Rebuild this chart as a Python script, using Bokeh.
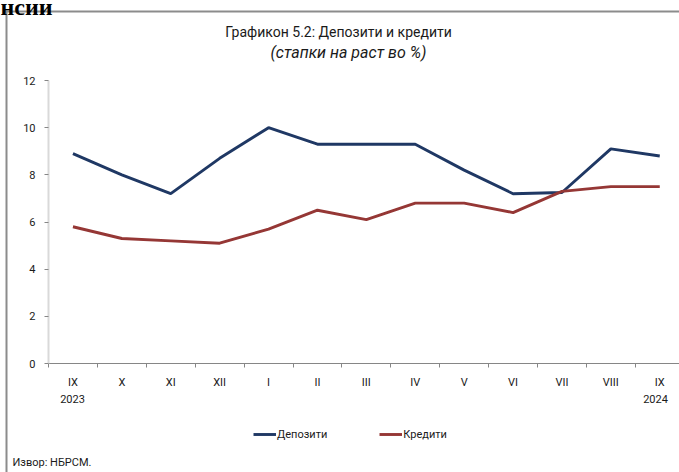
from bokeh.plotting import figure
from bokeh.models import Range1d, FixedTicker, Label, Legend, LegendItem, BoxAnnotation
from bokeh.embed import file_html
from bokeh.resources import INLINE

months = ["IX", "X", "XI", "XII", "I", "II", "III", "IV", "V", "VI", "VII", "VIII", "IX"]
years = ["2023", "2024"]
deposits = [8.9, 8.0, 7.2, 8.7, 10.0, 9.3, 9.3, 9.3, 8.2, 7.2, 7.25, 9.1, 8.8]
loans = [5.8, 5.3, 5.2, 5.1, 5.7, 6.5, 6.1, 6.8, 6.8, 6.4, 7.3, 7.5, 7.5]
y_ticks = [0, 2, 4, 6, 8, 10, 12]
idx = list(range(len(months)))

FONT = "Roboto"
TXT = "#1a1a1a"
W, H = 679, 472

# plot area geometry (canvas px): left 48, top 80, bottom 363, 48.9 px per category
PX_X = 48.9
PX_Y = (363 - 80) / 12.0
x0 = -0.5 - 48 / PX_X
x1 = x0 + W / PX_X
y0 = -(H - 363) / PX_Y
y1 = 12 + 80 / PX_Y

p = figure(width=W, height=H, output_backend="svg", toolbar_location=None,
           x_range=Range1d(x0, x1), y_range=Range1d(y0, y1),
           min_border_left=0, min_border_right=0, min_border_top=0, min_border_bottom=0)
p.xgrid.visible = False
p.ygrid.visible = False
p.outline_line_color = None
p.background_fill_color = "white"
p.border_fill_color = "white"

r1 = p.line(idx, deposits, line_color="#1F3864", line_width=2.9)
r2 = p.line(idx, loans, line_color="#953735", line_width=2.9)

ya = p.yaxis[0]
ya.fixed_location = -0.5
ya.bounds = (0, 12)
ya.ticker = FixedTicker(ticks=y_ticks)
ya.major_tick_out = 4
ya.major_tick_in = 0
ya.minor_tick_out = 0
ya.minor_tick_in = 0
ya.axis_line_color = "#D9D9D9"
ya.axis_line_width = 2
ya.major_tick_line_color = "#868686"
ya.major_label_standoff = 9
ya.major_label_text_font = FONT
ya.major_label_text_font_size = "11px"
ya.major_label_text_color = TXT

xa = p.xaxis[0]
xa.fixed_location = 0
xa.bounds = (-0.5, 12.5)
xa.ticker = FixedTicker(ticks=idx, minor_ticks=[k - 0.5 for k in range(len(months) + 1)])
xa.major_label_overrides = {i: m for i, m in enumerate(months)}
xa.major_tick_out = 0
xa.major_tick_in = 0
xa.minor_tick_out = 4
xa.minor_tick_in = 0
xa.minor_tick_line_color = "#868686"
xa.axis_line_color = "#868686"
xa.major_label_standoff = 8
xa.major_label_text_font = FONT
xa.major_label_text_font_size = "11px"
xa.major_label_text_color = TXT


def lab(x, y, text, size="11px", align="left", style="normal", font=FONT, color=TXT, baseline="middle"):
    p.add_layout(Label(x=x, y=y, x_units="canvas", y_units="canvas", text=text,
                       text_font=font, text_font_size=size, text_align=align,
                       text_baseline=baseline, text_color=color, text_font_style=style))


# page frame lines
p.add_layout(BoxAnnotation(left=5, right=W, top=10, bottom=12, left_units="canvas", right_units="canvas",
                           top_units="canvas", bottom_units="canvas", fill_color="#8c8c8c",
                           fill_alpha=1, line_alpha=0))
p.add_layout(BoxAnnotation(left=5, right=7, top=10, bottom=H, left_units="canvas", right_units="canvas",
                           top_units="canvas", bottom_units="canvas", fill_color="#8c8c8c",
                           fill_alpha=1, line_alpha=0))

lab(0, 6, "нсии", size="24px", style="bold", font="Liberation Serif", color="black", baseline="alphabetic")
lab(338, 31, "Графикон 5.2: Депозити и кредити", size="14px", align="center")
lab(348, 52, "(стапки на раст во %)", size="16px", align="center", style="italic")
lab(72, 398, years[0], align="center")
lab(655, 398, years[1], align="center")
lab(12, 462, "Извор: НБРСМ.")

legend = Legend(items=[LegendItem(label="Депозити", renderers=[r1]),
                       LegendItem(label="Кредити", renderers=[r2])],
                location=(253, 31), orientation="horizontal", glyph_width=23, glyph_height=14,
                label_height=14, label_standoff=1, spacing=52, padding=0, margin=0,
                border_line_alpha=0, background_fill_alpha=0,
                label_text_font=FONT, label_text_font_size="11px", label_text_color=TXT)
p.add_layout(legend)

open("out.html", "w").write(file_html(p, INLINE))
